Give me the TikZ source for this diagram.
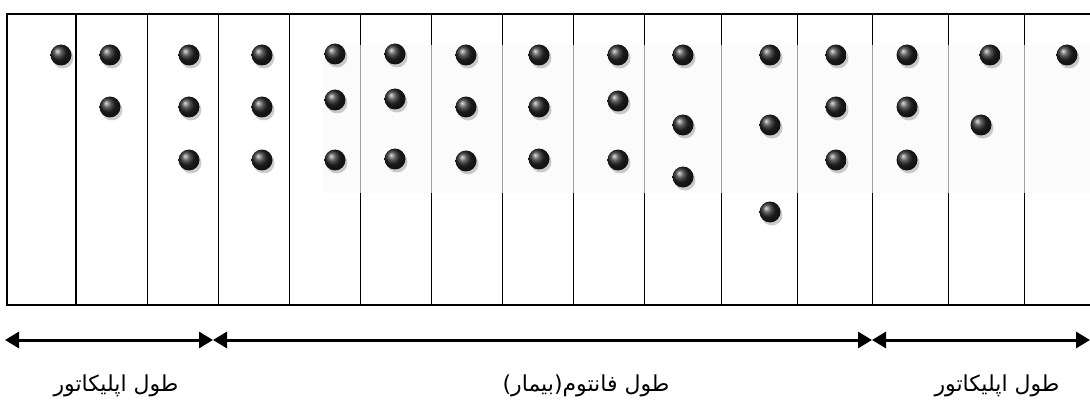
\documentclass[tikz,border=0pt]{standalone}
\usepackage{fontspec}
\newfontfamily\arabicfont[Script=Arabic]{DejaVu Sans}
\TeXXeTstate=1
\usetikzlibrary{arrows.meta,shadows}
\begin{document}
\begin{tikzpicture}[x=1pt,y=-1pt,
    bead/.style={circle,minimum size=21pt,inner sep=0pt,shading=ball,ball color=black!85,
        drop shadow={shadow xshift=2pt,shadow yshift=-3pt,opacity=0.4,fill=gray}},
    lenarrow/.style={{Triangle[length=14pt,width=16pt]}-{Triangle[length=14pt,width=16pt]},line width=3pt},
    lenlabel/.style={font=\arabicfont\fontsize{22}{26}\selectfont}]
\useasboundingbox (0,0) rectangle (1090,401);
\draw[line width=1.2pt] (1090,14) -- (7,14) -- (7,305) -- (1090,305);
\foreach \x in {76,147.5,218.5,289.5,360.5,431.5,502.5,573.5,644.5,721.5,797.5,872.5,948.5,1024.5}
    \draw[line width=1.2pt] (\x,14) -- (\x,305);
\fill[gray!3] (323,45) rectangle (1090,193);
\foreach \x in {360.5,431.5,502.5,573.5,644.5,721.5,797.5,872.5,948.5,1024.5}
    \draw[gray!75,line width=1.5pt] (\x,45) -- (\x,193);
\foreach \x/\y [count=\i] in {
    61/55,
    110/55, 110/107,
    189/55, 189/107, 189/160,
    262/55, 262/107, 262/160,
    335/54, 335/100, 335/160,
    395/54, 395/99, 395/159,
    466/55, 466/107, 466/161,
    539/55, 539/107, 539/159,
    618/55, 618/101, 618/160,
    683/55, 683/125, 683/177,
    770/55, 770/125, 770/212,
    836/55, 836/107, 836/160,
    907/55, 907/107, 907/160,
    990/55, 981/125,
    1067/55}
    \node[bead] (b\i) at (\x,\y) {};
\coordinate (a0) at (5,340);
\coordinate (a1) at (213,340);
\coordinate (a2) at (872,340);
\coordinate (a3) at (1090,340);
\draw[lenarrow] (a0) -- (a1);
\draw[lenarrow] (a1) -- (a2);
\draw[lenarrow] (a2) -- (a3);
\node[lenlabel] (l1) at (116,386) {\beginR طول اپلیکاتور\endR};
\node[lenlabel] (l2) at (586,386) {\beginR طول فانتوم(بیمار)\endR};
\node[lenlabel] (l3) at (997,386) {\beginR طول اپلیکاتور\endR};
\end{tikzpicture}
\end{document}
